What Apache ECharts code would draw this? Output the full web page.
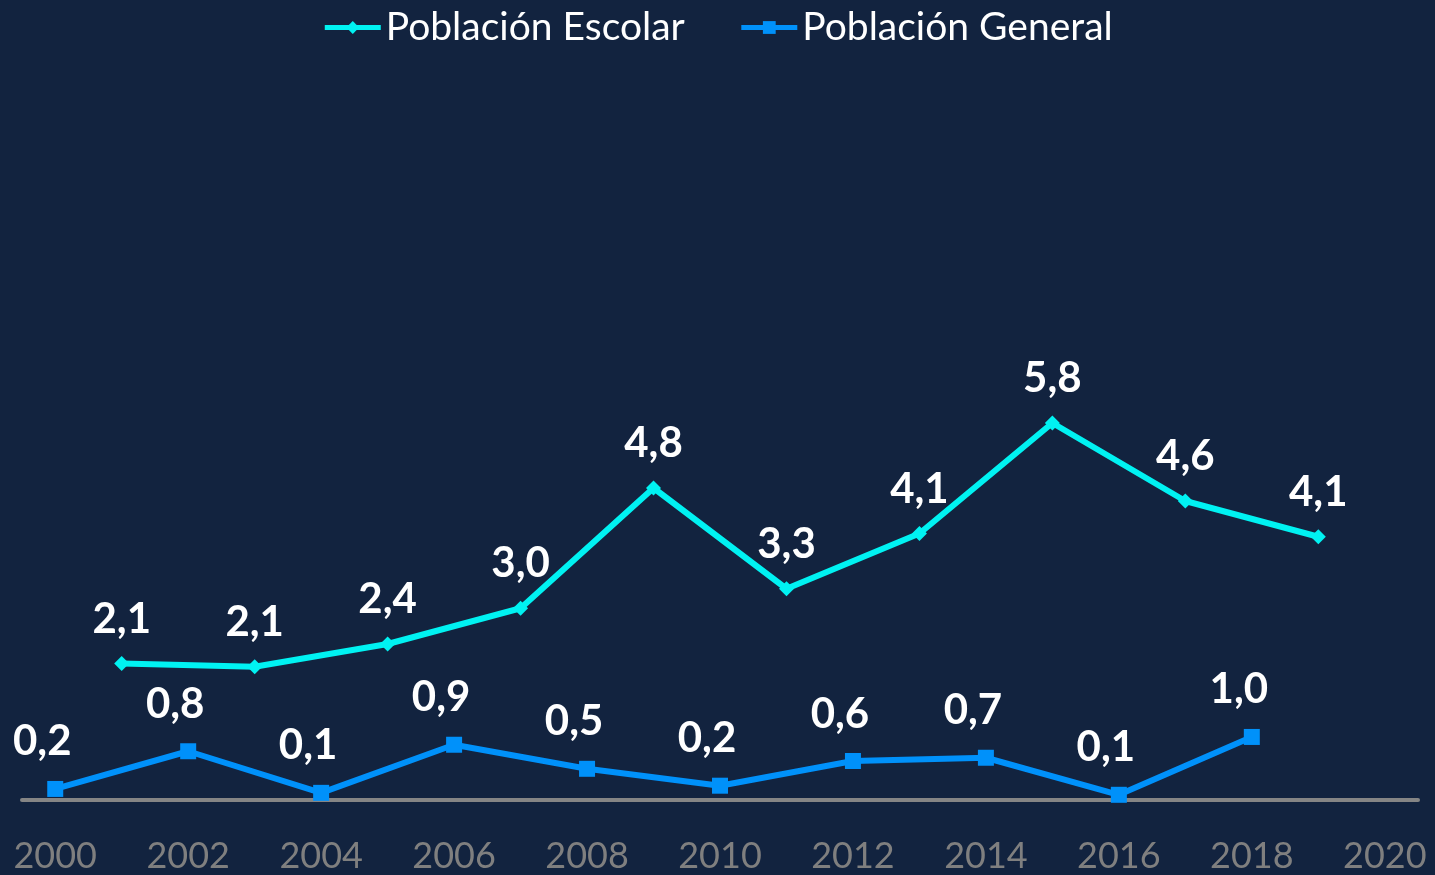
<!DOCTYPE html>
<html>
<head>
<meta charset="utf-8">
<script src="https://cdn.jsdelivr.net/npm/echarts@6/dist/echarts.min.js"></script>
<style>
  html, body { margin: 0; padding: 0; background: #12233f; }
  #chart { width: 1435px; height: 875px; }
</style>
</head>
<body>
<div id="chart"></div>
<script>
  // ===== 数据 =====
  const xTicks = [2000, 2002, 2004, 2006, 2008, 2010, 2012, 2014, 2016, 2018, 2020];
  const escolarYears = [2001, 2003, 2005, 2007, 2009, 2011, 2013, 2015, 2017, 2019];
  const escolarValues = [2.1, 2.05, 2.4, 2.95, 4.8, 3.25, 4.1, 5.8, 4.6, 4.05];
  const escolarLabels = ["2,1", "2,1", "2,4", "3,0", "4,8", "3,3", "4,1", "5,8", "4,6", "4,1"];
  const generalYears = [2000, 2002, 2004, 2006, 2008, 2010, 2012, 2014, 2016, 2018];
  const generalValues = [0.17, 0.75, 0.11, 0.85, 0.48, 0.22, 0.6, 0.65, 0.08, 0.97];
  const generalLabels = ["0,2", "0,8", "0,1", "0,9", "0,5", "0,2", "0,6", "0,7", "0,1", "1,0"];

  const FONT = "Lato, 'Open Sans', sans-serif";
  const chart = echarts.init(document.getElementById("chart"));

  const labelStyle = {
    show: true, position: "top", color: "#ffffff",
    fontFamily: FONT, fontWeight: "bold", fontSize: 42,
  };

  chart.setOption({
    backgroundColor: "#12233f",
    animation: false,
    legend: {
      top: 3, left: "center", itemWidth: 56, itemHeight: 16, itemGap: 54,
      lineStyle: { width: 5 },
      textStyle: { color: "#ffffff", fontFamily: FONT, fontSize: 39 },
      data: ["Población Escolar", "Población General"],
    },
    grid: { left: 22, right: 17, top: 150, bottom: 75 },
    xAxis: {
      type: "value", min: 1999.5, max: 2020.5,
      axisLine: { lineStyle: { color: "#858585", width: 4 } },
      axisTick: { show: false },
      splitLine: { show: false },
      axisLabel: {
        customValues: xTicks, color: "#7f7f7f", fontFamily: FONT, fontSize: 36, margin: 38,
        formatter: v => String(v),
      },
    },
    yAxis: {
      type: "value", min: 0, max: 10, show: false,
      splitLine: { show: false },
    },
    series: [
      {
        name: "Población Escolar", type: "line",
        data: escolarYears.map((y, i) => [y, escolarValues[i]]),
        symbol: "diamond", symbolSize: 15,
        lineStyle: { color: "#00f2f2", width: 6 },
        itemStyle: { color: "#00f2f2" },
        label: Object.assign({}, labelStyle, {
          distance: 16,
          formatter: p => escolarLabels[p.dataIndex],
        }),
      },
      {
        name: "Población General", type: "line",
        data: generalYears.map((y, i) => [y, generalValues[i]]),
        symbol: "rect", symbolSize: 16,
        lineStyle: { color: "#0091fa", width: 6 },
        itemStyle: { color: "#0091fa" },
        label: Object.assign({}, labelStyle, {
          distance: 18, offset: [-13, 0],
          formatter: p => generalLabels[p.dataIndex],
        }),
      },
    ],
  });
</script>
</body>
</html>
